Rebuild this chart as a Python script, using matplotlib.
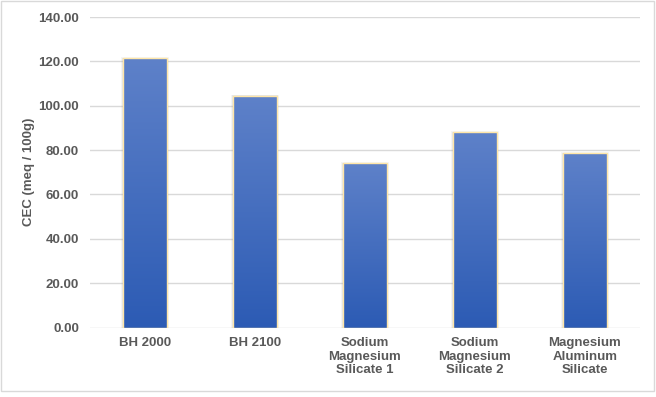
import matplotlib
matplotlib.use("Agg")
import matplotlib.pyplot as plt
import matplotlib.patches as mpatches
import numpy as np
from matplotlib.colors import LinearSegmentedColormap

categories = ["BH 2000", "BH 2100", "Sodium\nMagnesium\nSilicate 1",
              "Sodium\nMagnesium\nSilicate 2", "Magnesium\nAluminum\nSilicate"]
cec_values = [121.4, 104.6, 74.0, 88.0, 78.5]
y_ticks = [0, 20, 40, 60, 80, 100, 120, 140]

plt.rcParams['font.family'] = ['Liberation Sans', 'DejaVu Sans']
text_color = '#595959'
fsize = 9.5

fig = plt.figure(figsize=(6.56, 3.97), dpi=100)
ax = fig.add_axes([0.1372, 0.175, 0.8384, 0.782])

x = np.arange(len(categories))
width = 0.4
cmap = LinearSegmentedColormap.from_list('bar', ['#2C5BB4', '#5E81C9'])
grad = np.linspace(0, 1, 256).reshape(-1, 1)

bars = ax.bar(x, cec_values, width, color='none', edgecolor='#FFE6A8', linewidth=1.0, zorder=3)
for bar, val in zip(bars, cec_values):
    x0 = bar.get_x()
    # soft shadow
    for k, a in [(1.6, 0.08), (1.0, 0.12)]:
        ax.add_patch(mpatches.Rectangle((x0 - 0.012 * k, 0), width + 0.024 * k, val + 0.3 * k,
                                        facecolor='#808080', alpha=a, edgecolor='none', zorder=2))
    im = ax.imshow(grad, extent=[x0, x0 + width, 0, val], origin='lower', cmap=cmap,
                   aspect='auto', zorder=2.5)
    im.set_clip_path(bar)

ax.set_xlim(-0.5, len(categories) - 0.5)
ax.set_ylim(0, 140)
ax.set_yticks(y_ticks)
ax.set_yticklabels([f'{v:.2f}' for v in y_ticks])
ax.set_xticks(x)
ax.set_xticklabels(categories, linespacing=1.15)
ax.tick_params(axis='both', length=0, colors=text_color, labelsize=fsize)
for lbl in ax.get_xticklabels() + ax.get_yticklabels():
    lbl.set_fontweight('bold')
ax.tick_params(axis='y', pad=8)
ax.tick_params(axis='x', pad=7)
ax.grid(axis='y', color='#D9D9D9', linewidth=1, zorder=0)
ax.set_axisbelow(True)
for s in ax.spines.values():
    s.set_visible(False)

ax.set_ylabel('CEC (meq / 100g)', color=text_color, fontsize=fsize, fontweight='bold', labelpad=2)

fig.patches.append(mpatches.Rectangle((0.002, 0.015), 0.995, 0.982, transform=fig.transFigure,
                                      fill=False, edgecolor='#D9D9D9', linewidth=1))

fig.savefig('out.png', dpi=100)
